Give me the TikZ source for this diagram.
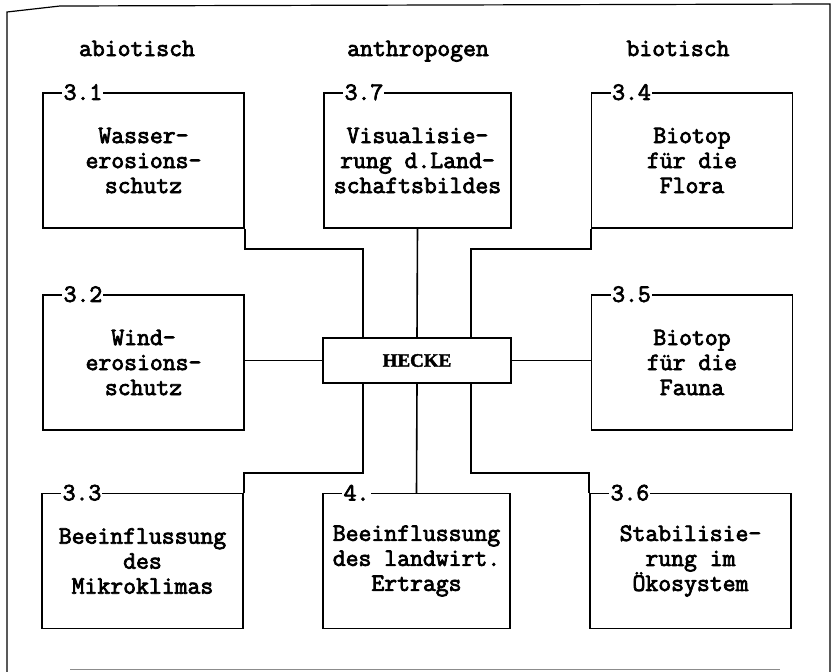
\documentclass[tikz,border=0pt]{standalone}
\usepackage{fontspec}
\newfontfamily\monof{Latin Modern Mono}[FakeBold=3]
\newfontfamily\heckef{Liberation Serif Bold}[FakeBold=2]
\tikzset{
  txt/.style={font=\monof\fontsize{25}{25}\selectfont},
  box/.style={draw, line width=1.5pt, inner sep=0pt, align=center, minimum height=135pt, txt},
  sidebox/.style={box, minimum width=201pt},
  midbox/.style={box, minimum width=187pt},
  numlab/.style={anchor=west, fill=white, inner sep=1.2pt, txt},
  head/.style={anchor=base, txt},
  conn/.style={line width=1.6pt},
  frame/.style={line width=1.2pt}
}
\begin{document}
\begin{tikzpicture}[x=1pt,y=-1pt]
\useasboundingbox (0,0) rectangle (838,672);
% outer frame
\draw[frame] (7,672) -- (7,12) -- (60,6) -- (830,4) -- (830,672);
\draw[line width=1pt, black!45] (70,669) -- (780,669);
% headers
\node[head] (habio) at (137,56) {abiotisch};
\node[head] (hanth) at (418,56) {anthropogen};
\node[head] (hbio) at (678,56) {biotisch};
% boxes
\node[sidebox] (b31) at (143.5,160.5) {Wasser-\\erosions-\\schutz};
\node[midbox]  (b37) at (417.5,160.5) {Visualisie-\\rung d.Land-\\schaftsbildes};
\node[sidebox] (b34) at (692,160.5) {Biotop\\f\"ur die\\Flora};
\node[sidebox] (b32) at (143.5,362.5) {Wind-\\erosions-\\schutz};
\node[sidebox] (b35) at (692,362.5) {Biotop\\f\"ur die\\Fauna};
\node[sidebox] (b33) at (142.5,561) {Beeinflussung\\des\\Mikroklimas};
\node[midbox]  (b4)  at (416.5,561) {Beeinflussung\\des landwirt.\\Ertrags};
\node[sidebox] (b36) at (690.5,561) {Stabilisie-\\rung im\\\"Okosystem};
% centre
\node[draw, line width=1.5pt, minimum width=188pt, minimum height=45pt, inner sep=0pt,
      font=\heckef\fontsize{19}{20}\selectfont] (hecke) at (417,360.5) {HECKE};
% connectors
\draw[conn] (b31.south east) -- ++(0,20) -| ([xshift=-54pt]hecke.north);
\draw[conn] (b37.south) -- (hecke.north);
\draw[conn] (b34.south west) -- ++(0,20) -| ([xshift=54pt]hecke.north);
\draw[conn] (hecke.west) -- (hecke.west -| b32.east);
\draw[conn] (hecke.east) -- (hecke.east -| b35.west);
\draw[conn] ([xshift=-54pt]hecke.south) -- ++(0,89) -| (b33.north east);
\draw[conn] (hecke.south) -- (b4.north);
\draw[conn] ([xshift=54pt]hecke.south) -- ++(0,89) -| (b36.north west);
% number labels
\node[numlab] (l31) at ([xshift=20pt]b31.north west) {3.1};
\node[numlab] (l37) at ([xshift=20pt]b37.north west) {3.7};
\node[numlab] (l34) at ([xshift=20pt]b34.north west) {3.4};
\node[numlab] (l32) at ([xshift=20pt]b32.north west) {3.2};
\node[numlab] (l35) at ([xshift=20pt]b35.north west) {3.5};
\node[numlab] (l33) at ([xshift=20pt]b33.north west) {3.3};
\node[numlab] (l4)  at ([xshift=20pt]b4.north west) {4.};
\node[numlab] (l36) at ([xshift=20pt]b36.north west) {3.6};
\end{tikzpicture}
\end{document}
